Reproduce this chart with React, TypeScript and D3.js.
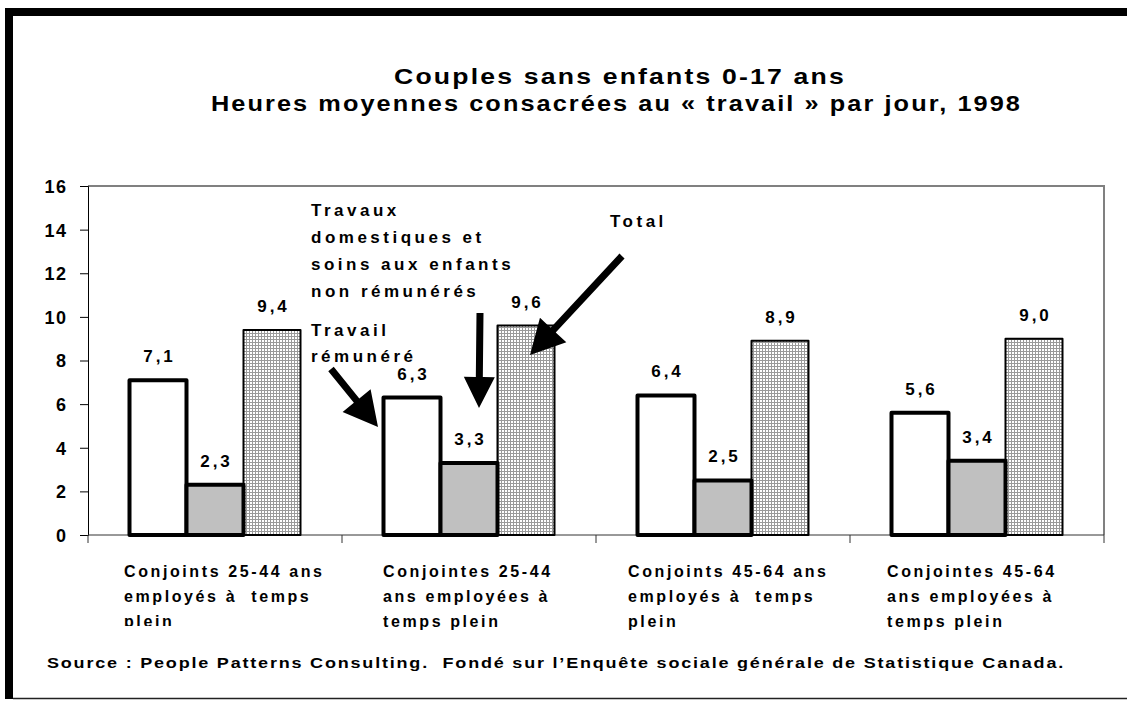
import { useEffect, useRef } from 'react';
import * as d3 from 'd3';

const categoryKeys = ['h2544', 'f2544', 'h4564', 'f4564'];
const categoryLabels = [
  ['Conjoints 25-44 ans', 'employés à  temps', 'plein'],
  ['Conjointes 25-44', 'ans employées à', 'temps plein'],
  ['Conjoints 45-64 ans', 'employés à  temps', 'plein'],
  ['Conjointes 45-64', 'ans employées à', 'temps plein'],
];
const seriesKeys = ['paid', 'unpaid', 'total'];
const paidWork = [7.1, 6.3, 6.4, 5.6];
const unpaidWork = [2.3, 3.3, 2.5, 3.4];
const totalWork = [9.4, 9.6, 8.9, 9.0];
const yTicks = [0, 2, 4, 6, 8, 10, 12, 14, 16];

const titleLines = [
  'Couples sans enfants 0-17 ans',
  'Heures moyennes consacrées au « travail » par jour, 1998',
];
const sourceText =
  'Source : People Patterns Consulting.  Fondé sur l\u2019Enquête sociale générale de Statistique Canada.';

const W = 1127;
const H = 701;
const FONT = '"Liberation Sans", Arial, Helvetica, sans-serif';

export default function App() {
  const ref = useRef<SVGSVGElement | null>(null);

  useEffect(() => {
    if (!ref.current) return;
    const svg = d3.select(ref.current);
    svg.selectAll('*').remove();

    const plot = { left: 88, right: 1104, top: 186, bottom: 535 };

    const defs = svg.append('defs');
    const pat = defs.append('pattern')
      .attr('id', 'grid-fill')
      .attr('width', 3)
      .attr('height', 3)
      .attr('patternUnits', 'userSpaceOnUse');
    pat.append('rect').attr('width', 3).attr('height', 3).attr('fill', '#ffffff');
    pat.append('path').attr('d', 'M0,0.5H3M0.5,0V3').attr('stroke', '#9a9a9a').attr('stroke-width', 1);

    defs.append('clipPath').attr('id', 'lbl-clip')
      .append('rect').attr('x', 0).attr('y', 0).attr('width', W).attr('height', 626);

    // frame
    svg.append('rect').attr('width', W).attr('height', H).attr('fill', '#fff');
    svg.append('rect').attr('x', 5).attr('y', 8).attr('width', W - 5).attr('height', 8).attr('fill', '#000');
    svg.append('rect').attr('x', 5).attr('y', 8).attr('width', 8).attr('height', 691).attr('fill', '#000');
    svg.append('line').attr('x1', 13).attr('x2', W).attr('y1', 698.5).attr('y2', 698.5)
      .attr('stroke', '#222').attr('stroke-width', 1.5);

    // title (glyphs slightly stretched, as in the original)
    const titleBox = [{ x: 394, w: 452 }, { x: 211, w: 811 }];
    svg.append('g').selectAll('text').data(titleLines).enter().append('text')
      .attr('x', (d, i) => titleBox[i].x)
      .attr('y', (d, i) => 84 + i * 27)
      .attr('font-family', FONT)
      .attr('font-weight', 'bold')
      .attr('font-size', 22)
      .attr('letter-spacing', 1.8)
      .attr('textLength', (d, i) => titleBox[i].w)
      .attr('lengthAdjust', 'spacingAndGlyphs')
      .text(d => d);

    const y = d3.scaleLinear().domain([0, 16]).range([plot.bottom, plot.top]);
    const x0 = d3.scaleBand<string>().domain(categoryKeys).range([plot.left, plot.right]);
    const barW = 57;
    const x1 = d3.scaleBand<string>().domain(seriesKeys).range([0, barW * 3]);
    const groupOffset = (x0.bandwidth() - barW * 3) / 2;

    // plot border (top/right gray)
    svg.append('path')
      .attr('d', `M${plot.left},${plot.top}H${plot.right}V${plot.bottom}`)
      .attr('fill', 'none').attr('stroke', '#808080').attr('stroke-width', 2);

    // y axis
    const yAxis = svg.append('g')
      .attr('transform', `translate(${plot.left},0)`)
      .call(d3.axisLeft(y).tickValues(yTicks).tickSize(8).tickFormat(d3.format('d')));
    yAxis.select('.domain').attr('stroke', '#000').attr('stroke-width', 1);
    yAxis.selectAll('line').attr('stroke', '#000');
    yAxis.selectAll('text')
      .attr('font-family', FONT).attr('font-weight', 'bold').attr('font-size', 18)
      .attr('letter-spacing', 1.5)
      .attr('fill', '#000').attr('x', -20.5).attr('dy', '0.36em');

    // x axis
    const xAxis = svg.append('g')
      .attr('transform', `translate(0,${plot.bottom})`);
    xAxis.append('line')
      .attr('x1', plot.left).attr('x2', plot.right).attr('stroke', '#333').attr('stroke-width', 1);
    xAxis.selectAll('.xt').data([...categoryKeys.map(k => x0(k) as number), plot.right]).enter()
      .append('line').attr('class', 'xt')
      .attr('x1', d => d).attr('x2', d => d).attr('y1', 0).attr('y2', 8)
      .attr('stroke', '#333');

    // bars
    const seriesValues: Record<string, number[]> = { paid: paidWork, unpaid: unpaidWork, total: totalWork };
    const seriesStyle: Record<string, { fill: string; sw: number }> = {
      paid: { fill: '#ffffff', sw: 4 },
      unpaid: { fill: '#c0c0c0', sw: 4 },
      total: { fill: 'url(#grid-fill)', sw: 2 },
    };
    const fmt = (v: number) => d3.format('.1f')(v).replace('.', ',');

    // draw total first so thick outlines sit on top
    ['total', 'paid', 'unpaid'].forEach(s => {
      const g = svg.append('g');
      const vals = seriesValues[s];
      g.selectAll('rect').data(vals).enter().append('rect')
        .attr('x', (d, i) => (x0(categoryKeys[i]) as number) + groupOffset + (x1(s) as number))
        .attr('y', d => y(d))
        .attr('width', x1.bandwidth())
        .attr('height', d => y(0) - y(d))
        .attr('fill', seriesStyle[s].fill)
        .attr('stroke', '#000')
        .attr('stroke-width', seriesStyle[s].sw)
        .attr('stroke-linejoin', 'round');
      g.selectAll('text').data(vals).enter().append('text')
        .attr('x', (d, i) => (x0(categoryKeys[i]) as number) + groupOffset + (x1(s) as number) + x1.bandwidth() / 2 + 1.5)
        .attr('y', d => y(d) - 18)
        .attr('text-anchor', 'middle')
        .attr('font-family', FONT).attr('font-weight', 'bold').attr('font-size', 17)
        .attr('letter-spacing', 3)
        .text(d => fmt(d));
    });

    // category labels
    const labelDx = [36, 41, 32, 37];
    categoryKeys.forEach((k, i) => {
      const g = svg.append('g');
      if (i === 0) g.attr('clip-path', 'url(#lbl-clip)');
      g.selectAll('text').data(categoryLabels[i]).enter().append('text')
        .attr('x', (x0(k) as number) + labelDx[i])
        .attr('y', (d, j) => 577 + j * 25)
        .attr('font-family', FONT).attr('font-weight', 'bold').attr('font-size', 16)
        .attr('letter-spacing', 2.6)
        .attr('xml:space', 'preserve')
        .text(d => d);
    });

    // annotations
    const notes = [
      { x: 311, y: 216, text: 'Travaux' },
      { x: 311, y: 243, text: 'domestiques et' },
      { x: 311, y: 270, text: 'soins aux enfants' },
      { x: 311, y: 297, text: 'non rémunérés' },
      { x: 311, y: 336, text: 'Travail' },
      { x: 311, y: 362, text: 'rémunéré' },
      { x: 610, y: 227, text: 'Total' },
    ];
    svg.append('g').selectAll('text').data(notes).enter().append('text')
      .attr('x', d => d.x).attr('y', d => d.y)
      .attr('font-family', FONT).attr('font-weight', 'bold').attr('font-size', 17)
      .attr('letter-spacing', 3.5)
      .text(d => d.text);

    const arrows = [
      { x1: 331, y1: 369, x2: 378, y2: 427, hl: 34, hw: 36 },
      { x1: 480, y1: 313, x2: 479, y2: 408, hl: 31, hw: 31 },
      { x1: 622, y1: 256, x2: 530, y2: 355, hl: 34, hw: 36 },
    ];
    const arrowPath = (a: typeof arrows[number]) => {
      const dx = a.x2 - a.x1, dy = a.y2 - a.y1;
      const len = Math.hypot(dx, dy);
      const ux = dx / len, uy = dy / len;
      const px = -uy, py = ux;
      const sw = 3.5;
      const bx = a.x2 - ux * a.hl, by = a.y2 - uy * a.hl;
      const pts = [
        [a.x1 + px * sw, a.y1 + py * sw],
        [bx + px * sw, by + py * sw],
        [bx + px * a.hw / 2, by + py * a.hw / 2],
        [a.x2, a.y2],
        [bx - px * a.hw / 2, by - py * a.hw / 2],
        [bx - px * sw, by - py * sw],
        [a.x1 - px * sw, a.y1 - py * sw],
      ];
      return 'M' + pts.map(p => p.join(',')).join('L') + 'Z';
    };
    svg.append('g').selectAll('path').data(arrows).enter().append('path')
      .attr('d', d => arrowPath(d)).attr('fill', '#000');

    // source
    svg.append('text')
      .attr('x', 47).attr('y', 668)
      .attr('font-family', FONT).attr('font-weight', 'bold').attr('font-size', 15)
      .attr('letter-spacing', 1.5)
      .attr('textLength', 1018)
      .attr('lengthAdjust', 'spacingAndGlyphs')
      .attr('xml:space', 'preserve')
      .text(sourceText);
  }, []);

  return (
    <svg
      ref={ref}
      width={W}
      height={H}
      style={{ position: 'absolute', left: 0, top: 0, display: 'block' }}
    />
  );
}
